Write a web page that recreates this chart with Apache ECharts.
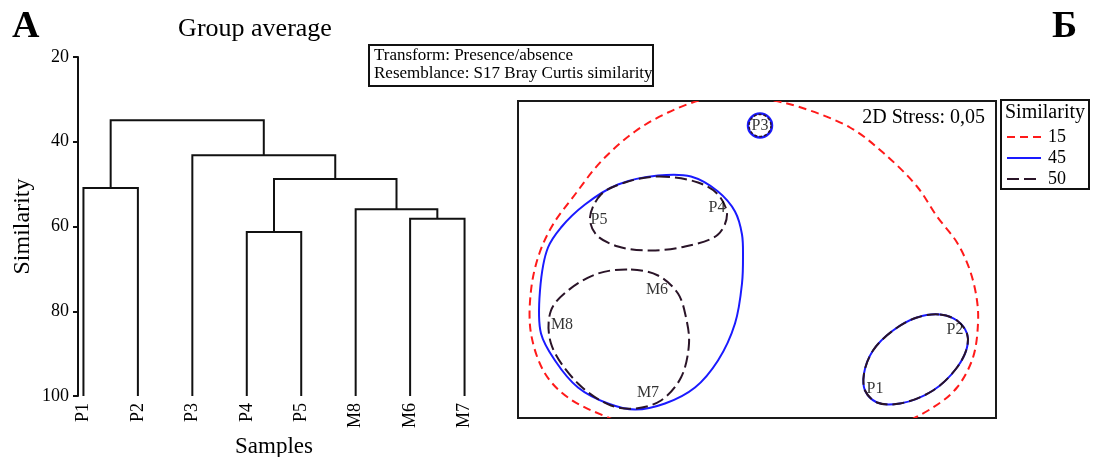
<!DOCTYPE html>
<html>
<head>
<meta charset="utf-8">
<script src="https://cdn.jsdelivr.net/npm/echarts@6/dist/echarts.min.js"></script>
<style>
  html, body { margin: 0; padding: 0; background: #fff; }
  #chart { width: 1093px; height: 457px; }
</style>
</head>
<body>
<div id="chart"></div>
<script>
// ---- Cluster dendrogram (group average, Bray-Curtis similarity) ----
const leaves = ['P1', 'P2', 'P3', 'P4', 'P5', 'M8', 'M6', 'M7'];
// Each merge joins two nodes (leaf index 0..7, then new nodes 8, 9, ...) at a similarity level
const mergeLeft  = [3, 6, 5, 0, 8, 2, 11];
const mergeRight = [4, 7, 9, 1, 10, 12, 13];
const mergeSim   = [61.3, 58.2, 55.9, 50.9, 48.8, 43.2, 34.9];
const simTicks = [20, 40, 60, 80, 100];

// ---- nMDS ordination ----
const sampleNames = ['P1', 'P2', 'P3', 'P4', 'P5', 'M6', 'M7', 'M8'];
const mdsX = [1.18, 1.98, 0.03, -0.40, -1.58, -1.00, -1.09, -1.95];
const mdsY = [-1.29, -0.70, 1.34, 0.52, 0.40, -0.30, -1.33, -0.65];
const stressText = '2D Stress: 0,05';

// Similarity contours (outline nodes in ordination space)
const contour15 = [
  [-0.22, 1.64], [0.11, 1.60], [0.44, 1.52], [0.93, 1.32], [1.26, 1.07], [1.60, 0.73],
  [1.80, 0.43], [2.00, 0.17], [2.13, -0.11], [2.20, -0.41], [2.21, -0.64], [2.16, -0.98],
  [2.00, -1.28], [1.76, -1.48], [1.23, -1.73], [0.53, -1.87], [-0.17, -1.89],
  [-0.87, -1.79], [-1.49, -1.58], [-1.89, -1.38], [-2.12, -1.14], [-2.26, -0.74],
  [-2.26, -0.31], [-2.18, 0.05], [-2.04, 0.35], [-1.82, 0.65], [-1.56, 0.98],
  [-1.22, 1.28], [-0.89, 1.47], [-0.54, 1.60]
];
const contour45Main = [
  [-0.99, 0.84], [-0.66, 0.83], [-0.39, 0.68], [-0.22, 0.48], [-0.15, 0.25], [-0.14, 0.02],
  [-0.15, -0.24], [-0.22, -0.64], [-0.39, -1.01], [-0.62, -1.28], [-0.92, -1.44],
  [-1.22, -1.50], [-1.49, -1.44], [-1.79, -1.28], [-2.02, -1.01], [-2.16, -0.74],
  [-2.17, -0.31], [-2.09, 0.12], [-1.96, 0.32], [-1.72, 0.55], [-1.39, 0.75]
];
const contourP1P2 = [
  [1.83, -0.55], [2.00, -0.61], [2.10, -0.74], [2.10, -0.88], [2.00, -1.08], [1.76, -1.31],
  [1.43, -1.44], [1.20, -1.43], [1.08, -1.31], [1.07, -1.14], [1.16, -0.91], [1.36, -0.71],
  [1.60, -0.58]
];
const contour50P = [
  [-0.99, 0.83], [-0.59, 0.77], [-0.39, 0.65], [-0.30, 0.45], [-0.39, 0.25], [-0.72, 0.13],
  [-1.06, 0.09], [-1.39, 0.13], [-1.61, 0.25], [-1.67, 0.42], [-1.56, 0.65], [-1.32, 0.77]
];
const contour50M = [
  [-1.26, -0.10], [-0.99, -0.16], [-0.79, -0.34], [-0.71, -0.58], [-0.68, -0.84],
  [-0.76, -1.18], [-0.96, -1.41], [-1.22, -1.49], [-1.46, -1.46], [-1.79, -1.24],
  [-2.06, -0.84], [-2.06, -0.51], [-1.89, -0.31], [-1.59, -0.14]
];
// P3 stands alone: ring centre and radius
const ringP3 = [0.03, 1.34, 0.12];

const levels = ['15', '45', '50'];
const levelColors = ['#ff1a1a', '#1a1aff', '#2a1428'];
const levelDash = [[8, 5], null, [12, 5]];

const serif = 'Liberation Serif';

// Dendrogram geometry: node x = leaf index or mean of children, node y = similarity
const nodeX = leaves.map((_, i) => i);
const nodeY = leaves.map(() => 100);
const dendroRows = mergeSim.map((h, k) => {
  const a = mergeLeft[k], b = mergeRight[k];
  const row = [nodeX[a], nodeY[a], nodeX[b], nodeY[b], h];
  nodeX.push((nodeX[a] + nodeX[b]) / 2);
  nodeY.push(h);
  return row;
});

// Closed centripetal Catmull-Rom curve through pixel points, as cubic Bezier path
function closedCurve(pts) {
  const n = pts.length;
  const dist = (a, b) => Math.pow(Math.hypot(b[0] - a[0], b[1] - a[1]), 0.5) || 1e-6;
  let d = 'M' + pts[0][0] + ',' + pts[0][1];
  for (let i = 0; i < n; i++) {
    const p0 = pts[(i - 1 + n) % n], p1 = pts[i], p2 = pts[(i + 1) % n], p3 = pts[(i + 2) % n];
    const d1 = dist(p0, p1), d2 = dist(p1, p2), d3 = dist(p2, p3);
    const c1 = [0, 1].map(k =>
      (d1 * d1 * p2[k] - d2 * d2 * p0[k] + (2 * d1 * d1 + 3 * d1 * d2 + d2 * d2) * p1[k]) / (3 * d1 * (d1 + d2)));
    const c2 = [0, 1].map(k =>
      (d3 * d3 * p1[k] - d2 * d2 * p3[k] + (2 * d3 * d3 + 3 * d3 * d2 + d2 * d2) * p2[k]) / (3 * d3 * (d3 + d2)));
    d += 'C' + c1[0] + ',' + c1[1] + ' ' + c2[0] + ',' + c2[1] + ' ' + p2[0] + ',' + p2[1];
  }
  return d + 'Z';
}

function contourSeries(name, shapes, li, ring) {
  return {
    type: 'custom',
    name: name,
    xAxisIndex: 1,
    yAxisIndex: 1,
    clip: true,
    silent: true,
    data: shapes.map((_, i) => [i]).concat(ring ? [[shapes.length]] : []),
    renderItem: function (params, api) {
      const style = {
        fill: 'none',
        stroke: levelColors[li],
        lineWidth: 2,
        lineDash: levelDash[li] || null
      };
      if (params.dataIndex >= shapes.length) {
        const c = api.coord([ringP3[0], ringP3[1]]);
        const r = api.size([ringP3[2], 0])[0];
        return {
          type: 'circle',
          shape: { cx: c[0], cy: c[1], r: li === 2 ? r - 1 : r },
          style: Object.assign({}, style, { lineWidth: li === 2 ? 1.5 : 2.5, lineDash: li === 2 ? [3, 2] : null })
        };
      }
      const pts = shapes[params.dataIndex].map(p => api.coord(p));
      return { type: 'path', shape: { pathData: closedCurve(pts) }, style: style };
    }
  };
}

const chart = echarts.init(document.getElementById('chart'), null, { renderer: 'canvas' });

const option = {
  animation: false,
  backgroundColor: '#fff',
  grid: [
    { left: 78, top: 57, width: 392, height: 339, containLabel: false, outerBoundsMode: 'none' },
    { left: 518, top: 101, width: 478, height: 317, outerBoundsMode: 'none', show: true, borderColor: '#1a1a1a', borderWidth: 2, backgroundColor: 'transparent' }
  ],
  xAxis: [
    {
      gridIndex: 0, type: 'value', min: -0.1, max: 7.1,
      axisLine: { show: false, onZero: false }, axisTick: { show: false }, splitLine: { show: false },
      axisLabel: {
        customValues: leaves.map((_, i) => i),
        formatter: v => leaves[Math.round(v)],
        rotate: 90, margin: 7, fontSize: 18, fontFamily: serif, color: '#000'
      },
      name: 'Samples', nameLocation: 'middle', nameGap: 34,
      nameTextStyle: { fontSize: 23, fontFamily: serif, color: '#000' }
    },
    { gridIndex: 1, type: 'value', min: -2.39, max: 2.39, show: false }
  ],
  yAxis: [
    {
      gridIndex: 0, type: 'value', inverse: true, min: 20, max: 100, interval: 20,
      axisLine: { show: true, onZero: false, lineStyle: { color: '#111', width: 2 } },
      axisTick: { show: true, length: 5, lineStyle: { color: '#111', width: 2 } },
      splitLine: { show: false },
      axisLabel: {
        margin: 9, fontSize: 18, fontFamily: serif, color: '#000',
        formatter: v => (simTicks.indexOf(v) >= 0 ? String(v) : '')
      },
      name: 'Similarity', nameLocation: 'middle', nameGap: 43,
      nameTextStyle: { fontSize: 24, fontFamily: serif, color: '#000' }
    },
    { gridIndex: 1, type: 'value', min: -1.585, max: 1.585, show: false }
  ],
  series: [
    {
      type: 'custom',
      name: 'dendrogram',
      xAxisIndex: 0,
      yAxisIndex: 0,
      silent: true,
      encode: { x: [0, 2], y: [1, 3, 4] },
      data: dendroRows,
      renderItem: function (params, api) {
        const xa = api.value(0), ya = api.value(1), xb = api.value(2), yb = api.value(3), h = api.value(4);
        return {
          type: 'polyline',
          shape: { points: [api.coord([xa, ya]), api.coord([xa, h]), api.coord([xb, h]), api.coord([xb, yb])] },
          style: { fill: 'none', stroke: '#111', lineWidth: 2 }
        };
      }
    },
    contourSeries('15', [contour15], 0, false),
    contourSeries('45', [contour45Main, contourP1P2], 1, true),
    contourSeries('50', [contour50P, contour50M, contourP1P2], 2, true),
    {
      type: 'scatter',
      name: 'samples',
      xAxisIndex: 1,
      yAxisIndex: 1,
      silent: true,
      symbolSize: 0,
      data: sampleNames.map((n, i) => ({ name: n, value: [mdsX[i], mdsY[i]] })),
      label: {
        show: true, position: 'inside', formatter: '{b}',
        fontSize: 16, fontFamily: serif, color: '#000'
      }
    }
  ],
  graphic: [
    { type: 'text', left: 12, top: 8, style: { text: 'А', font: 'bold 38px "Liberation Serif"', fill: '#000' } },
    { type: 'text', left: 1052, top: 8, style: { text: 'Б', font: 'bold 38px "Liberation Serif"', fill: '#000' } },
    { type: 'text', x: 255, y: 29, style: { text: 'Group average', font: '26px "Liberation Serif"', fill: '#000', align: 'center', verticalAlign: 'middle' } },
    {
      type: 'group', x: 369, y: 45,
      children: [
        { type: 'rect', shape: { x: 0, y: 0, width: 284, height: 41 }, style: { fill: '#fff', stroke: '#111', lineWidth: 2 } },
        { type: 'text', x: 5, y: 11, style: { text: 'Transform: Presence/absence', font: '17px "Liberation Serif"', fill: '#000', verticalAlign: 'middle' } },
        { type: 'text', x: 5, y: 29, style: { text: 'Resemblance: S17 Bray Curtis similarity', font: '17px "Liberation Serif"', fill: '#000', verticalAlign: 'middle' } }
      ]
    },
    { type: 'text', x: 985, y: 118, style: { text: stressText, font: '20px "Liberation Serif"', fill: '#000', align: 'right', verticalAlign: 'middle' } },
    {
      type: 'group', x: 1001, y: 100,
      children: [
        { type: 'rect', shape: { x: 0, y: 0, width: 88, height: 89 }, style: { fill: '#fff', stroke: '#111', lineWidth: 2 } },
        { type: 'text', x: 4, y: 13, style: { text: 'Similarity', font: '20px "Liberation Serif"', fill: '#000', verticalAlign: 'middle' } }
      ].concat(levels.flatMap((lv, i) => [
        { type: 'line', shape: { x1: 6, y1: 37 + i * 21, x2: 40, y2: 37 + i * 21 }, style: { stroke: levelColors[i], lineWidth: 2, lineDash: levelDash[i] || null } },
        { type: 'text', x: 47, y: 37 + i * 21, style: { text: lv, font: '18px "Liberation Serif"', fill: '#000', verticalAlign: 'middle' } }
      ]))
    }
  ]
};

chart.setOption(option);
</script>
</body>
</html>
